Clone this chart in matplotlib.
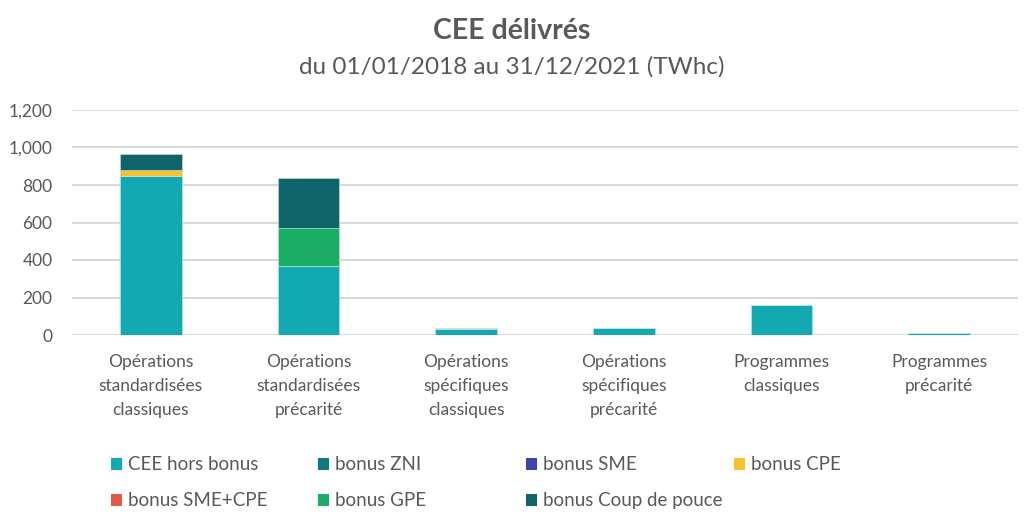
import numpy as np
import matplotlib.pyplot as plt
from matplotlib.patches import Patch

plt.rcParams['font.family'] = ['Lato', 'DejaVu Sans']

# Data (TWhc)
categories = ['Opérations\nstandardisées\nclassiques', 'Opérations\nstandardisées\nprécarité',
              'Opérations\nspécifiques\nclassiques', 'Opérations\nspécifiques\nprécarité',
              'Programmes\nclassiques', 'Programmes\nprécarité']
hors_bonus = [850, 368, 33, 35, 158, 9]
bonus_zni = [0, 0, 0, 0, 0, 0]
bonus_sme = [0, 0, 0, 0, 0, 0]
bonus_cpe = [32, 0, 3, 0, 0, 0]
bonus_sme_cpe = [0, 0, 0, 0, 0, 0]
bonus_gpe = [0, 204, 0, 0, 0, 0]
bonus_cdp = [82, 266, 0, 0, 0, 0]

series = [('CEE hors bonus', hors_bonus, '#13A9B2'),
          ('bonus ZNI', bonus_zni, '#127A7E'),
          ('bonus SME', bonus_sme, '#3A46A8'),
          ('bonus CPE', bonus_cpe, '#FBC02D'),
          ('bonus SME+CPE', bonus_sme_cpe, '#E05A47'),
          ('bonus GPE', bonus_gpe, '#1AAE64'),
          ('bonus Coup de pouce', bonus_cdp, '#0E6468')]

grey = '#595959'
fig = plt.figure(figsize=(10.24, 5.2), dpi=100)
ax = fig.add_axes([72/1024, 1-335/520, (1018-72)/1024, (335-110)/520])

x = np.arange(len(categories))
bottom = np.zeros(len(categories))
handles = []
for name, vals, col in series:
    vals = np.array(vals, dtype=float)
    ax.bar(x, vals, 0.39, bottom=bottom, color=col, edgecolor='#bfe6e8', linewidth=0.4, zorder=3)
    bottom += vals
    handles.append(Patch(facecolor=col, label=name))

ax.set_xlim(-0.5, len(categories)-0.5)
ax.set_ylim(0, 1200)
ax.set_yticks(range(0, 1201, 200))
ax.set_yticklabels([f'{v:,}' for v in range(0, 1201, 200)])
ax.set_xticks(x)
ax.set_xticklabels(categories, linespacing=1.6)
ax.tick_params(axis='both', length=0, labelsize=12.5, colors=grey)
ax.tick_params(axis='x', pad=14)
ax.tick_params(axis='y', pad=14)
ax.grid(axis='y', color='#d9d9d9', linewidth=1.5, zorder=0)
for s in ax.spines.values():
    s.set_visible(False)

fig.text(0.5, 1-31/520, 'CEE délivrés', ha='center', va='center',
         fontsize=20.5, fontweight='bold', color=grey)
fig.text(0.5, 1-67/520, 'du 01/01/2018 au 31/12/2021 (TWhc)', ha='center', va='center',
         fontsize=17.5, color=grey)

# legend laid out in 4 columns like the original
cols = [[0, 4], [1, 5], [2, 6], [3]]
col_x = [103, 310, 518, 726]
for cx, idx in zip(col_x, cols):
    leg = fig.legend(handles=[handles[i] for i in idx], loc='upper left',
                     bbox_to_anchor=(cx/1024, 1-449/520), frameon=False,
                     fontsize=13.5, handlelength=0.6, handleheight=0.6,
                     handletextpad=0.35, labelspacing=1.0, borderaxespad=0)
    for t in leg.get_texts():
        t.set_color(grey)

fig.savefig('out.png', dpi=100)
